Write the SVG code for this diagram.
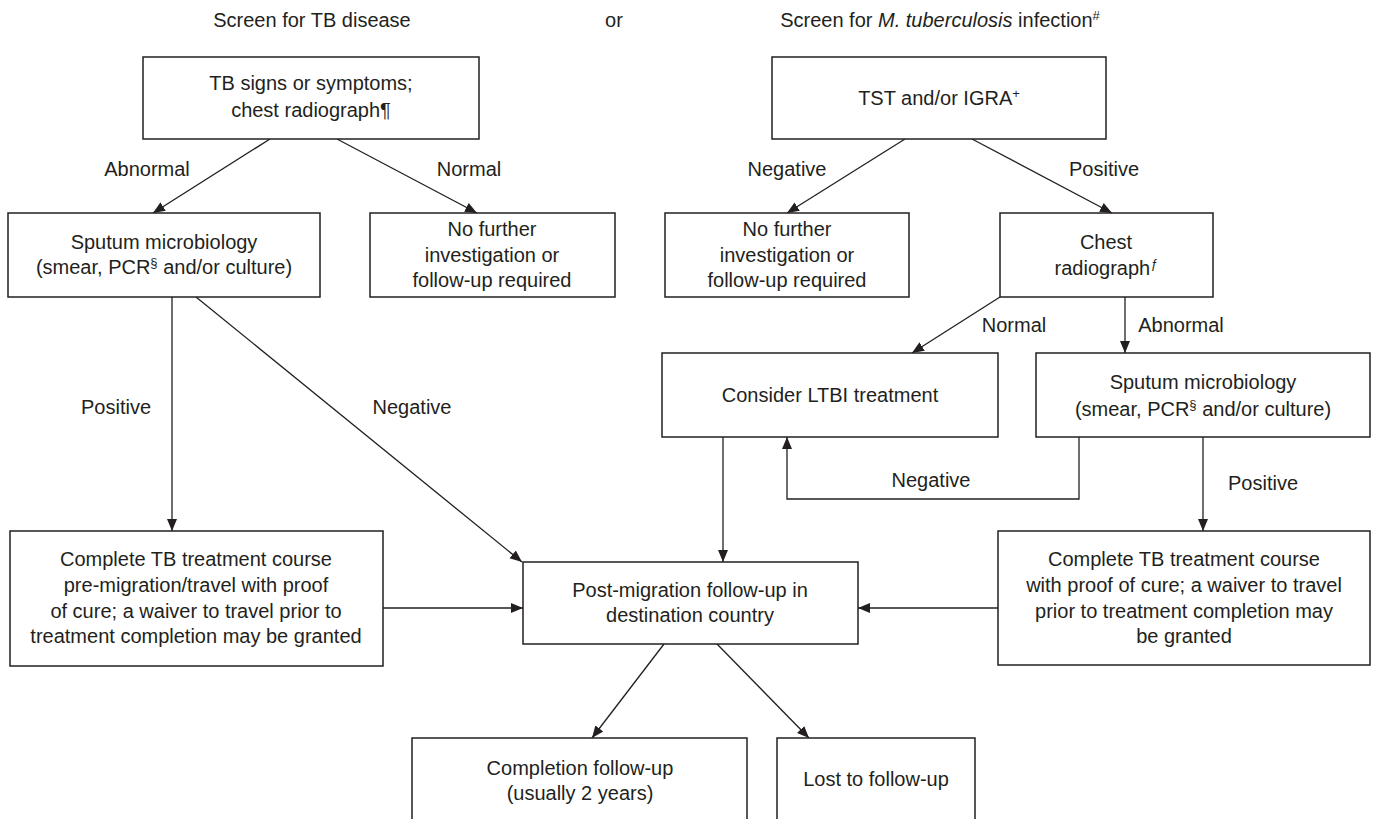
<svg xmlns="http://www.w3.org/2000/svg" width="1374" height="819" viewBox="0 0 1374 819">
<defs>
<marker id="ah" viewBox="0 0 12 12" refX="12" refY="6" markerWidth="12" markerHeight="12" markerUnits="userSpaceOnUse" orient="auto">
<path d="M0,1 L12,6 L0,11 Z" fill="#231f20"/>
</marker>
<style>
.b{fill:#fff;stroke:#231f20;stroke-width:1.5}
.t{font-family:"Liberation Sans",Arial,sans-serif;font-size:20px;fill:#231f20;text-anchor:middle}
.c{fill:none;stroke:#231f20;stroke-width:1.3}
.a{marker-end:url(#ah)}
.sup{font-size:13px}
</style>
</defs>
<rect width="1374" height="819" fill="#fff"/>
<g id="titles">
<text class="t" x="312" y="27">Screen for TB disease</text>
<text class="t" x="614" y="27">or</text>
<text class="t" x="940" y="27">Screen for <tspan font-style="italic">M. tuberculosis</tspan> infection<tspan class="sup" dy="-7">#</tspan></text>
</g>
<g id="connectors">
<line class="c a" x1="270" y1="139" x2="153" y2="213"/>
<line class="c a" x1="337" y1="139" x2="477" y2="213"/>
<line class="c a" x1="905" y1="139" x2="787" y2="213"/>
<line class="c a" x1="972" y1="139" x2="1112" y2="213"/>
<line class="c a" x1="172" y1="297" x2="172" y2="531"/>
<line class="c a" x1="196" y1="297" x2="522" y2="562"/>
<line class="c a" x1="1000" y1="297" x2="912" y2="353"/>
<line class="c a" x1="1125" y1="297" x2="1125" y2="353"/>
<line class="c a" x1="723" y1="437" x2="723" y2="562"/>
<polyline class="c a" points="1079,437 1079,499 787,499 787,437"/>
<line class="c a" x1="1203" y1="437" x2="1203" y2="531"/>
<line class="c a" x1="383" y1="608" x2="523" y2="608"/>
<line class="c a" x1="998" y1="608" x2="858" y2="608"/>
<line class="c a" x1="664" y1="644" x2="592" y2="738"/>
<line class="c a" x1="717" y1="644" x2="809" y2="738"/>
<text class="t" x="147" y="176">Abnormal</text>
<text class="t" x="469" y="176">Normal</text>
<text class="t" x="787" y="176">Negative</text>
<text class="t" x="1104" y="176">Positive</text>
<text class="t" x="1014" y="332">Normal</text>
<text class="t" x="1181" y="332">Abnormal</text>
<text class="t" x="116" y="414">Positive</text>
<text class="t" x="412" y="414">Negative</text>
<text class="t" x="931" y="487">Negative</text>
<text class="t" x="1263" y="490">Positive</text>
</g>
<g id="n-tbsigns">
<rect class="b" x="143" y="57" width="336" height="82"/>
<text class="t" x="311" y="90">TB signs or symptoms;</text>
<text class="t" x="311" y="117">chest radiograph¶</text>
</g>
<g id="n-tst">
<rect class="b" x="772" y="57" width="334" height="82"/>
<text class="t" x="939" y="105">TST and/or IGRA<tspan class="sup" dy="-7">+</tspan></text>
</g>
<g id="n-sputum-l">
<rect class="b" x="8" y="213" width="312" height="84"/>
<text class="t" x="164" y="249">Sputum microbiology</text>
<text class="t" x="164" y="274">(smear, PCR<tspan class="sup" dy="-7">§</tspan><tspan dy="7"> and/or culture)</tspan></text>
</g>
<g id="n-nofurther-l">
<rect class="b" x="370" y="213" width="245" height="84"/>
<text class="t" x="492" y="236">No further</text>
<text class="t" x="492" y="262">investigation or</text>
<text class="t" x="492" y="287">follow-up required</text>
</g>
<g id="n-nofurther-r">
<rect class="b" x="665" y="213" width="244" height="84"/>
<text class="t" x="787" y="236">No further</text>
<text class="t" x="787" y="262">investigation or</text>
<text class="t" x="787" y="287">follow-up required</text>
</g>
<g id="n-chest">
<rect class="b" x="1000" y="213" width="213" height="84"/>
<text class="t" x="1106" y="249">Chest</text>
<text class="t" x="1106" y="275">radiograph<tspan class="sup" font-style="italic" dy="-7">ƒ</tspan></text>
</g>
<g id="n-ltbi">
<rect class="b" x="662" y="353" width="336" height="84"/>
<text class="t" x="830" y="402">Consider LTBI treatment</text>
</g>
<g id="n-sputum-r">
<rect class="b" x="1036" y="353" width="334" height="84"/>
<text class="t" x="1203" y="389">Sputum microbiology</text>
<text class="t" x="1203" y="416">(smear, PCR<tspan class="sup" dy="-7">§</tspan><tspan dy="7"> and/or culture)</tspan></text>
</g>
<g id="n-complete-l">
<rect class="b" x="10" y="531" width="373" height="135"/>
<text class="t" x="196" y="566">Complete TB treatment course</text>
<text class="t" x="196" y="592">pre-migration/travel with proof</text>
<text class="t" x="196" y="618">of cure; a waiver to travel prior to</text>
<text class="t" x="196" y="643">treatment completion may be granted</text>
</g>
<g id="n-postmig">
<rect class="b" x="523" y="562" width="335" height="82"/>
<text class="t" x="690" y="597">Post-migration follow-up in</text>
<text class="t" x="690" y="622">destination country</text>
</g>
<g id="n-complete-r">
<rect class="b" x="998" y="531" width="372" height="134"/>
<text class="t" x="1184" y="566">Complete TB treatment course</text>
<text class="t" x="1184" y="592">with proof of cure; a waiver to travel</text>
<text class="t" x="1184" y="618">prior to treatment completion may</text>
<text class="t" x="1184" y="643">be granted</text>
</g>
<g id="n-completion">
<rect class="b" x="412" y="738" width="335" height="90"/>
<text class="t" x="580" y="775">Completion follow-up</text>
<text class="t" x="580" y="800">(usually 2 years)</text>
</g>
<g id="n-lost">
<rect class="b" x="777" y="738" width="198" height="90"/>
<text class="t" x="876" y="786">Lost to follow-up</text>
</g>
</svg>
